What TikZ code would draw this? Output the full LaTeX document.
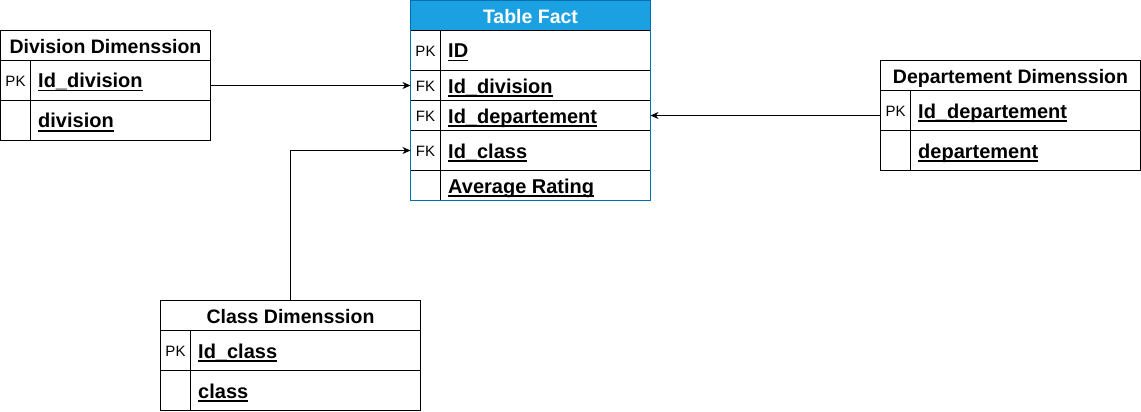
\documentclass[tikz,border=0pt]{standalone}
\usepackage{fontspec}
\setmainfont{Liberation Sans}
\usetikzlibrary{arrows.meta}
\definecolor{factfill}{HTML}{1BA1E2}
\definecolor{factline}{HTML}{006EAF}
\newcommand\fu[1]{\sbox0{#1}\rlap{\rule[-3.5pt]{\wd0}{1.5pt}}\usebox0}
\begin{document}
\begin{tikzpicture}[x=1pt,y=-1pt,
 box/.style={draw=black, line width=1pt, rectangle, inner sep=0pt, outer sep=0pt, anchor=north west},
 hdr/.style={box, minimum height=30pt, text height=16pt, text depth=0pt, font=\fontsize{19.5}{19.5}\selectfont\bfseries},
 rowbox/.style={box},
 keycell/.style={box, minimum width=30pt, text height=12pt, text depth=0pt, font=\fontsize{15}{15}\selectfont},
 fldtxt/.style={anchor=base west, inner sep=0pt, font=\fontsize{20}{20}\selectfont\bfseries},
 conn/.style={draw=black, line width=1pt, -{Stealth[length=8pt,width=7pt,inset=2.5pt]}}]
\useasboundingbox (0,0) rectangle (1141,412);

% Division Dimenssion
\node[box, minimum width=210pt, minimum height=110pt] (divtab) at (0.5,30.5) {};
\node[hdr, minimum width=210pt] (divhdr) at (0.5,30.5) {Division Dimenssion};
\node[rowbox, minimum width=210pt, minimum height=40pt] (divr1) at (0.5,60.5) {};
\node[keycell, minimum height=40pt] (divk1) at (0.5,60.5) {PK};
\node[fldtxt] (divf1) at (38,88) {\fu{Id\_division}};
\node[rowbox, minimum width=210pt, minimum height=40pt] (divr2) at (0.5,100.5) {};
\node[keycell, minimum height=40pt] (divk2) at (0.5,100.5) {};
\node[fldtxt] (divf2) at (38,128) {\fu{division}};

% Table Fact
\node[hdr, fill=factfill, text=white, minimum width=240pt] (facthdr) at (410.5,0.5) {Table Fact};
\node[rowbox, minimum width=240pt, minimum height=40pt] (factr1) at (410.5,30.5) {};
\node[keycell, minimum height=40pt] (factk1) at (410.5,30.5) {PK};
\node[fldtxt] (factf1) at (448,58) {\fu{ID}};
\node[rowbox, minimum width=240pt, minimum height=30pt] (factr2) at (410.5,70.5) {};
\node[keycell, minimum height=30pt] (factk2) at (410.5,70.5) {FK};
\node[fldtxt] (factf2) at (448,93) {\fu{Id\_division}};
\node[rowbox, minimum width=240pt, minimum height=30pt] (factr3) at (410.5,100.5) {};
\node[keycell, minimum height=30pt] (factk3) at (410.5,100.5) {FK};
\node[fldtxt] (factf3) at (448,123) {\fu{Id\_departement}};
\node[rowbox, minimum width=240pt, minimum height=40pt] (factr4) at (410.5,130.5) {};
\node[keycell, minimum height=40pt] (factk4) at (410.5,130.5) {FK};
\node[fldtxt] (factf4) at (448,158) {\fu{Id\_class}};
\node[rowbox, minimum width=240pt, minimum height=30pt] (factr5) at (410.5,170.5) {};
\node[keycell, minimum height=30pt] (factk5) at (410.5,170.5) {};
\node[fldtxt] (factf5) at (448,193) {\fu{Average Rating}};
\node[box, draw=factline, minimum width=240pt, minimum height=200pt] (facttab) at (410.5,0.5) {};

% Departement Dimenssion
\node[box, minimum width=260pt, minimum height=110pt] (deptab) at (880.5,60.5) {};
\node[hdr, minimum width=260pt] (dephdr) at (880.5,60.5) {Departement Dimenssion};
\node[rowbox, minimum width=260pt, minimum height=40pt] (depr1) at (880.5,90.5) {};
\node[keycell, minimum height=40pt] (depk1) at (880.5,90.5) {PK};
\node[fldtxt] (depf1) at (918,118) {\fu{Id\_departement}};
\node[rowbox, minimum width=260pt, minimum height=40pt] (depr2) at (880.5,130.5) {};
\node[keycell, minimum height=40pt] (depk2) at (880.5,130.5) {};
\node[fldtxt] (depf2) at (918,158) {\fu{departement}};

% Class Dimenssion
\node[box, minimum width=260pt, minimum height=110pt] (clstab) at (160.5,300.5) {};
\node[hdr, minimum width=260pt] (clshdr) at (160.5,300.5) {Class Dimenssion};
\node[rowbox, minimum width=260pt, minimum height=40pt] (clsr1) at (160.5,330.5) {};
\node[keycell, minimum height=40pt] (clsk1) at (160.5,330.5) {PK};
\node[fldtxt] (clsf1) at (198,358) {\fu{Id\_class}};
\node[rowbox, minimum width=260pt, minimum height=40pt] (clsr2) at (160.5,370.5) {};
\node[keycell, minimum height=40pt] (clsk2) at (160.5,370.5) {};
\node[fldtxt] (clsf2) at (198,398) {\fu{class}};

% connectors
\draw[conn] (divtab.east |- factr2.west) -- (factr2.west);
\draw[conn] (deptab.west |- factr3.east) -- (factr3.east);
\draw[conn] (clstab.north) |- (factr4.west);
\end{tikzpicture}
\end{document}
